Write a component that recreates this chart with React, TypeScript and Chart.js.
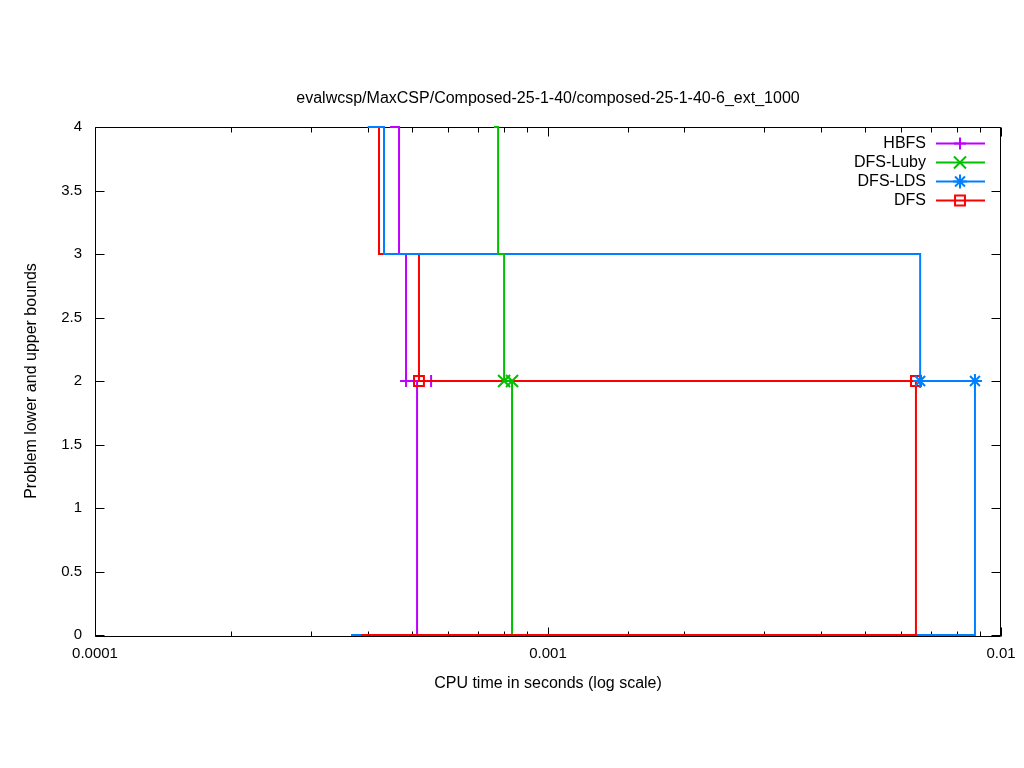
import React, { useEffect, useRef } from 'react';
import { Chart, registerables } from 'chart.js';

Chart.register(...registerables);

const FONT = '"Liberation Sans", Arial, Helvetica, sans-serif';

const chartTitle = 'evalwcsp/MaxCSP/Composed-25-1-40/composed-25-1-40-6_ext_1000';
const xAxisTitle = 'CPU time in seconds (log scale)';
const yAxisTitle = 'Problem lower and upper bounds';

const xTickValues = [0.0001, 0.001, 0.01];
const xTickLabels = ['0.0001', '0.001', '0.01'];
const yTickValues = [0, 0.5, 1, 1.5, 2, 2.5, 3, 3.5, 4];
const yTickLabels = ['0', '0.5', '1', '1.5', '2', '2.5', '3', '3.5', '4'];

const seriesNames = ['HBFS', 'DFS-Luby', 'DFS-LDS', 'DFS'];

// upper bounds (time in seconds, bound)
const hbfsUpperTimes = [0.000448, 0.000469, 0.000486, 0.000552];
const hbfsUpperBounds = [4, 3, 2, 2];
const lubyUpperTimes = [0.000760, 0.000776, 0.000800, 0.000833];
const lubyUpperBounds = [4, 3, 2, 2];
const ldsUpperTimes = [0.000400, 0.0004345, 0.00663, 0.00876];
const ldsUpperBounds = [4, 3, 2, 2];
const dfsUpperTimes = [0.000420, 0.0004236, 0.000519, 0.00649];
const dfsUpperBounds = [4, 3, 2, 2];

// lower bounds
const hbfsLowerTimes = [0.00039, 0.000514];
const hbfsLowerBounds = [0, 2];
const lubyLowerTimes = [0.00039, 0.000833];
const lubyLowerBounds = [0, 2];
const ldsLowerTimes = [0.0003674, 0.00876];
const ldsLowerBounds = [0, 2];
const dfsLowerTimes = [0.0003867, 0.00649];
const dfsLowerBounds = [0, 2];

// styles
const seriesColors = ['#c000ff', '#00c000', '#0080ff', '#ff0000'];
const seriesMarkers = ['cross', 'crossRot', 'star', 'rect'];
const markerRadius = [6, 8.5, 7, 7];
const upperOrder = [4, 1, 2, 3];
const lowerOrder = [8, 7, 6, 5];

const upperTimes = [hbfsUpperTimes, lubyUpperTimes, ldsUpperTimes, dfsUpperTimes];
const upperBounds = [hbfsUpperBounds, lubyUpperBounds, ldsUpperBounds, dfsUpperBounds];
const lowerTimes = [hbfsLowerTimes, lubyLowerTimes, ldsLowerTimes, dfsLowerTimes];
const lowerBounds = [hbfsLowerBounds, lubyLowerBounds, ldsLowerBounds, dfsLowerBounds];

function drawMarker(ctx: CanvasRenderingContext2D, style: string, x: number, y: number, r: number) {
  const d = r * Math.SQRT1_2;
  ctx.beginPath();
  if (style === 'cross' || style === 'star') {
    ctx.moveTo(x - r, y); ctx.lineTo(x + r, y);
    ctx.moveTo(x, y - r); ctx.lineTo(x, y + r);
  }
  if (style === 'crossRot' || style === 'star') {
    ctx.moveTo(x - d, y - d); ctx.lineTo(x + d, y + d);
    ctx.moveTo(x - d, y + d); ctx.lineTo(x + d, y - d);
  }
  if (style === 'rect') {
    ctx.rect(x - d, y - d, 2 * d, 2 * d);
  }
  ctx.stroke();
}

const frameTicksPlugin = {
  id: 'frameTicks',
  beforeDatasetsDraw(chart: any) {
    const { ctx, chartArea: a, scales } = chart;
    const L = Math.round(a.left) + 0.5;
    const R = Math.round(a.right) - 0.5;
    const T = Math.round(a.top) + 0.5;
    const B = Math.round(a.bottom) + 1.5;
    ctx.save();
    ctx.strokeStyle = '#000';
    ctx.lineWidth = 1;
    ctx.beginPath();
    ctx.rect(L, T, R - L, B - T);
    ctx.stroke();
    ctx.beginPath();
    for (const t of scales.x.ticks) {
      const px = Math.round(scales.x.getPixelForValue(t.value)) + 0.5;
      const major = xTickValues.some((v) => Math.abs(Math.log10(v) - Math.log10(t.value)) < 1e-6);
      const len = major ? 9 : 5;
      ctx.moveTo(px, B); ctx.lineTo(px, B - len);
      ctx.moveTo(px, T); ctx.lineTo(px, T + len);
    }
    for (const t of scales.y.ticks) {
      const py = Math.round(scales.y.getPixelForValue(t.value)) + 0.5;
      ctx.moveTo(L, py); ctx.lineTo(L + 9, py);
      ctx.moveTo(R, py); ctx.lineTo(R - 9, py);
    }
    ctx.stroke();
    ctx.restore();
  },
};

const keyPlugin = {
  id: 'gnuKey',
  afterDatasetsDraw(chart: any) {
    const { ctx } = chart;
    ctx.save();
    ctx.font = `16px ${FONT}`;
    ctx.textAlign = 'right';
    ctx.textBaseline = 'middle';
    seriesNames.forEach((name, i) => {
      const y = 143.5 + i * 19;
      ctx.fillStyle = '#000';
      ctx.fillText(name, 926, y);
      ctx.strokeStyle = seriesColors[i];
      ctx.lineWidth = 2;
      ctx.beginPath();
      ctx.moveTo(936, y);
      ctx.lineTo(985, y);
      ctx.stroke();
      drawMarker(ctx, seriesMarkers[i], 960, y, markerRadius[i]);
    });
    ctx.restore();
  },
};

export default function App() {
  const canvasRef = useRef<HTMLCanvasElement | null>(null);

  useEffect(() => {
    if (!canvasRef.current) return;
    const font = { family: FONT, size: 16, weight: 'normal' as const };
    const tickFont = { family: FONT, size: 15, weight: 'normal' as const };
    const datasets: any[] = [];
    seriesNames.forEach((name, i) => {
      const color = seriesColors[i];
      datasets.push({
        label: name,
        data: upperTimes[i].map((t, k) => ({ x: t, y: upperBounds[i][k] })),
        borderColor: color,
        backgroundColor: color,
        borderWidth: 2,
        stepped: true,
        fill: false,
        pointStyle: seriesMarkers[i],
        pointRadius: (c: any) => (c.raw && c.raw.y === 2 ? markerRadius[i] : 0),
        pointHoverRadius: 0,
        pointBorderColor: color,
        pointBackgroundColor: 'rgba(0,0,0,0)',
        pointBorderWidth: 2,
        order: upperOrder[i],
        clip: 12,
      });
    });
    seriesNames.forEach((name, i) => {
      const color = seriesColors[i];
      datasets.push({
        label: '',
        data: lowerTimes[i].map((t, k) => ({ x: t, y: lowerBounds[i][k] })),
        borderColor: color,
        backgroundColor: color,
        borderWidth: 2,
        stepped: true,
        fill: false,
        pointRadius: 0,
        pointHoverRadius: 0,
        order: lowerOrder[i],
        clip: 12,
      });
    });

    const chart = new Chart(canvasRef.current, {
      type: 'line',
      data: { datasets },
      options: {
        animation: false,
        responsive: false,
        events: [],
        layout: { padding: { left: 0, right: 23, top: 0, bottom: 0 } },
        plugins: {
          legend: { display: false },
          tooltip: { enabled: false },
          title: {
            display: true,
            text: chartTitle,
            color: '#000',
            font,
            fullSize: false,
            padding: { top: 88.9, bottom: 18.9 },
          },
        },
        scales: {
          x: {
            type: 'logarithmic',
            position: 'bottom',
            min: 0.0001,
            max: 0.01,
            grid: { display: false, drawTicks: false },
            border: { display: false },
            ticks: {
              autoSkip: false,
              maxRotation: 0,
              padding: 10,
              color: '#000',
              font: tickFont,
              callback: (v: any) => {
                const idx = xTickValues.findIndex((tv) => Math.abs(Math.log10(tv) - Math.log10(Number(v))) < 1e-6);
                return idx >= 0 ? xTickLabels[idx] : '';
              },
            },
            title: {
              display: true,
              text: xAxisTitle,
              color: '#000',
              font,
              padding: { top: 0, bottom: 74.9 },
            },
            afterFit: (s: any) => {
              s.height = 133;
              s.paddingLeft = 5;
              s.paddingRight = 5;
            },
          },
          y: {
            type: 'linear',
            min: 0,
            max: 4,
            grid: { display: false, drawTicks: false },
            border: { display: false },
            ticks: {
              stepSize: 0.5,
              padding: 13,
              color: '#000',
              font: tickFont,
              callback: (v: any) => {
                const idx = yTickValues.findIndex((tv) => Math.abs(tv - Number(v)) < 1e-9);
                return idx >= 0 ? yTickLabels[idx] : '';
              },
            },
            title: {
              display: true,
              text: yAxisTitle,
              color: '#000',
              font,
              padding: { top: 22, bottom: 0 },
            },
            afterFit: (s: any) => {
              s.width = 95;
              s.paddingTop = 5;
              s.paddingBottom = 5;
            },
          },
        },
      },
      plugins: [frameTicksPlugin, keyPlugin],
    });
    return () => chart.destroy();
  }, []);

  return (
    <div style={{ position: 'absolute', left: 0, top: 0, width: 1024, height: 768, background: '#fff' }}>
      <canvas ref={canvasRef} width={1024} height={768} />
    </div>
  );
}
